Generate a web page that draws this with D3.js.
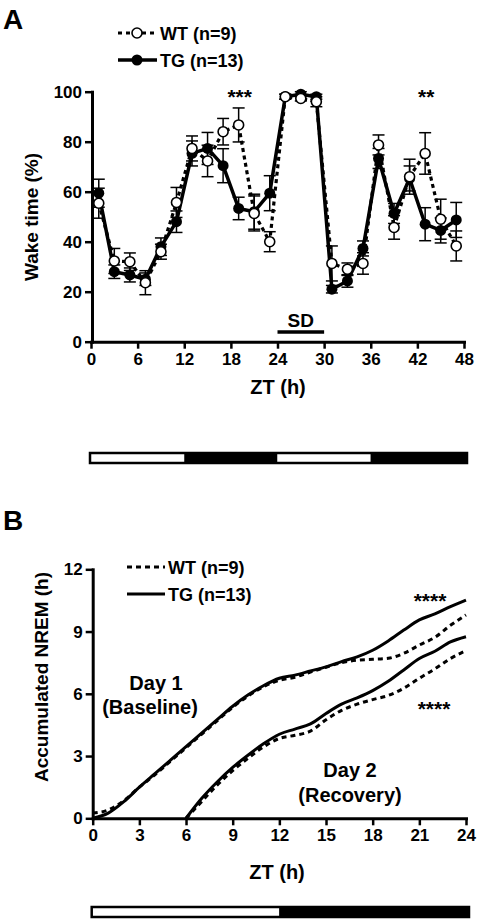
<!DOCTYPE html>
<html><head><meta charset="utf-8">
<script src="https://cdn.jsdelivr.net/npm/d3@7"></script>
<style>
body{margin:0;background:#fff}
svg text{font-family:"Liberation Sans",Arial,Helvetica,sans-serif;font-weight:bold;fill:#000}
</style>
</head><body>
<svg id="c" width="477" height="921"></svg>
<script>
// ---------- Panel A data ----------
const ztA   = [1,3,5,7,9,11,13,15,17,19,21,23,25,27,29,31,33,35,37,39,41,43,45,47];
const wtWake= [55.4,32.3,32,23.6,36,55.7,77.3,72.3,84,86.7,51.3,40,98,97.3,96,31.3,29,31.3,78.7,45.7,66,75.3,49,38.3];
const wtSem = [6,5,3.5,4.8,3,6,5,6.3,5.3,6.8,7,4,1,1,2,7,2.5,4.3,4,4.7,7,8.3,8,6];
const tgWake= [59.4,28,26.7,25,38,48,75.3,77.3,70.4,53.3,52,59.4,98,99,98,21,24.3,37.3,73.3,51.3,65.3,47,44.5,48.7];
const tgSem = [5.6,2.7,2.8,2.5,3.5,4.3,5,6.4,6.8,4.5,7,7,1,1,1,1.5,2.5,3,4,4,5,6.6,5,7];
const ticksAx = [0,6,12,18,24,30,36,42,48];
const ticksAy = [0,20,40,60,80,100];
const lightDarkA = [[0,12,"light"],[12,24,"dark"],[24,36,"light"],[36,48,"dark"]];
const sdPeriod = [24,30];
const starsA = [[19,"***"],[43,"**"]];

// ---------- Panel B data ----------
const hoursDay1 = [0,1,2,3,4,5,6,7,8,9,10,11,12,13,14,15,16,17,18,19,20,21,22,23,24];
const wtDay1 = [0.25,0.4,0.85,1.5,2.1,2.75,3.4,4.05,4.7,5.35,5.9,6.35,6.65,6.8,7.05,7.28,7.5,7.62,7.66,7.71,7.95,8.35,8.72,9.3,9.8];
const tgDay1 = [0,0.25,0.8,1.5,2.15,2.8,3.45,4.1,4.75,5.4,5.95,6.4,6.75,6.9,7.1,7.3,7.55,7.78,8.1,8.55,9.07,9.56,9.85,10.2,10.52];
const hoursDay2 = [6,7,8,9,10,11,12,13,14,15,16,17,18,19,20,21,22,23,24];
const wtDay2 = [0,0.8,1.6,2.3,2.9,3.45,3.85,4.0,4.2,4.75,5.2,5.5,5.72,5.92,6.27,6.75,7.2,7.7,8.08];
const tgDay2 = [0,0.95,1.75,2.45,3.05,3.6,4.05,4.3,4.55,5.05,5.5,5.8,6.15,6.6,7.15,7.7,8.05,8.5,8.75];
const ticksBx = [0,3,6,9,12,15,18,21,24];
const ticksBy = [0,3,6,9,12];
const lightDarkB = [[0,12,"light"],[12,24,"dark"]];

const svg = d3.select("#c");

function styleAxis(g){
  g.select(".domain").attr("stroke","#000").attr("stroke-width",3).attr("stroke-linecap","square");
  g.selectAll(".tick line").attr("stroke","#000").attr("stroke-width",2.5);
  g.selectAll(".tick text").style("font-size","17px").style("font-weight","bold").attr("fill","#000");
}

// ================= PANEL A =================
const xA = d3.scaleLinear().domain([0,48]).range([91,464]);
const yA = d3.scaleLinear().domain([0,100]).range([341.7,91.7]);

svg.append("text").attr("x",3).attr("y",29).style("font-size","28px").text("A");

const gAx = svg.append("g").attr("transform",`translate(0,${yA(0)})`)
  .call(d3.axisBottom(xA).tickValues(ticksAx).tickSize(7).tickSizeOuter(0).tickPadding(4));
styleAxis(gAx);
const gAy = svg.append("g").attr("transform",`translate(${xA(0)+1},0)`)
  .call(d3.axisLeft(yA).tickValues(ticksAy).tickSize(7).tickSizeOuter(0).tickPadding(3));
styleAxis(gAy);

svg.append("text").attr("transform",`translate(38,${217}) rotate(-90)`).attr("text-anchor","middle")
  .style("font-size","19px").text("Wake time (%)");
svg.append("text").attr("x",278).attr("y",394).attr("text-anchor","middle").style("font-size","20px").text("ZT (h)");

svg.append("line").attr("x1",xA(sdPeriod[0])).attr("x2",xA(sdPeriod[1])).attr("y1",332).attr("y2",332)
  .attr("stroke","#000").attr("stroke-width",3.5);
svg.append("text").attr("x",(xA(sdPeriod[0])+xA(sdPeriod[1]))/2).attr("y",327).attr("text-anchor","middle")
  .style("font-size","19px").text("SD");

function lightDark(scale, segs, y, h){
  const g = svg.append("g");
  const x0 = scale(segs[0][0])-1, x1 = scale(segs[segs.length-1][1])+3;
  g.selectAll("rect.seg").data(segs).join("rect")
    .attr("x",d=>scale(d[0])).attr("width",d=>scale(d[1])-scale(d[0]))
    .attr("y",y).attr("height",h).attr("fill",d=>d[2]==="light"?"#fff":"#000");
  g.append("rect").attr("x",x0).attr("y",y).attr("width",x1-x0).attr("height",h)
    .attr("fill","none").attr("stroke","#000").attr("stroke-width",2.5);
  g.append("rect").attr("x",scale(segs[segs.length-1][0])).attr("y",y).attr("width",x1-scale(segs[segs.length-1][0])).attr("height",h).attr("fill","#000");
}
lightDark(xA, lightDarkA, 453, 10);

function errBars(vals, sems){
  const g = svg.append("g").attr("stroke","#000").attr("stroke-width",1.5);
  ztA.forEach((z,i)=>{
    const x = xA(z), yt = yA(Math.min(100,vals[i]+sems[i])), yb = yA(vals[i]-sems[i]);
    g.append("line").attr("x1",x).attr("x2",x).attr("y1",yt).attr("y2",yb);
    g.append("line").attr("x1",x-6).attr("x2",x+6).attr("y1",yt).attr("y2",yt);
    g.append("line").attr("x1",x-6).attr("x2",x+6).attr("y1",yb).attr("y2",yb);
  });
}
errBars(tgWake,tgSem);
errBars(wtWake,wtSem);

const lineA = d3.line().x((d,i)=>xA(ztA[i])).y(d=>yA(d));
svg.append("path").attr("d",lineA(tgWake)).attr("fill","none").attr("stroke","#000").attr("stroke-width",3.5).attr("stroke-linejoin","round");
svg.append("path").attr("d",lineA(wtWake)).attr("fill","none").attr("stroke","#000").attr("stroke-width",3.2).attr("stroke-dasharray","4,3.5");

svg.append("g").selectAll("circle").data(tgWake).join("circle")
  .attr("cx",(d,i)=>xA(ztA[i])).attr("cy",d=>yA(d)).attr("r",5.5).attr("fill","#000");
svg.append("g").selectAll("circle").data(wtWake).join("circle")
  .attr("cx",(d,i)=>xA(ztA[i])).attr("cy",d=>yA(d)).attr("r",5).attr("fill","#fff").attr("stroke","#000").attr("stroke-width",1.6);

starsA.forEach(s=>{
  svg.append("text").attr("x",xA(s[0])+1).attr("y",104).attr("text-anchor","middle").style("font-size","21px").text(s[1]);
});

// legend A
svg.append("line").attr("x1",118).attr("x2",157).attr("y1",33).attr("y2",33).attr("stroke","#000").attr("stroke-width",3.2).attr("stroke-dasharray","4,4");
svg.append("circle").attr("cx",137).attr("cy",33).attr("r",5).attr("fill","#fff").attr("stroke","#000").attr("stroke-width",1.6);
svg.append("text").attr("x",160).attr("y",39.5).style("font-size","18px").text("WT (n=9)");
svg.append("line").attr("x1",118).attr("x2",157).attr("y1",60).attr("y2",60).attr("stroke","#000").attr("stroke-width",3.5);
svg.append("circle").attr("cx",137).attr("cy",60).attr("r",5.5).attr("fill","#000");
svg.append("text").attr("x",160).attr("y",66.5).style("font-size","18px").text("TG (n=13)");

// ================= PANEL B =================
const xB = d3.scaleLinear().domain([0,24]).range([92.7,466]);
const yB = d3.scaleLinear().domain([0,12]).range([818.3,569.3]);

svg.append("text").attr("x",3).attr("y",530).style("font-size","28px").text("B");

const gBx = svg.append("g").attr("transform",`translate(0,${yB(0)})`)
  .call(d3.axisBottom(xB).tickValues(ticksBx).tickSize(7).tickSizeOuter(0).tickPadding(4));
styleAxis(gBx);
const gBy = svg.append("g").attr("transform",`translate(${xB(0)},0)`)
  .call(d3.axisLeft(yB).tickValues(ticksBy).tickSize(7).tickSizeOuter(0).tickPadding(3));
styleAxis(gBy);

svg.append("text").attr("transform",`translate(48,${677}) rotate(-90)`).attr("text-anchor","middle")
  .style("font-size","19px").text("Accumulated NREM (h)");
svg.append("text").attr("x",277).attr("y",879).attr("text-anchor","middle").style("font-size","20px").text("ZT (h)");

lightDark(xB, lightDarkB, 907, 10);

const lineB = (hrs)=>d3.line().x((d,i)=>xB(hrs[i])).y(d=>yB(d)).curve(d3.curveMonotoneX);
[[hoursDay1,tgDay1,false],[hoursDay2,tgDay2,false],[hoursDay1,wtDay1,true],[hoursDay2,wtDay2,true]].forEach(s=>{
  svg.append("path").attr("d",lineB(s[0])(s[1])).attr("fill","none").attr("stroke","#000")
    .attr("stroke-width",3).attr("stroke-dasharray",s[2]?"5,4":null);
});

svg.append("text").attr("x",156).attr("y",690).attr("text-anchor","middle").style("font-size","20px").text("Day 1");
svg.append("text").attr("x",150).attr("y",714).attr("text-anchor","middle").style("font-size","20px").text("(Baseline)");
svg.append("text").attr("x",350).attr("y",777).attr("text-anchor","middle").style("font-size","20px").text("Day 2");
svg.append("text").attr("x",350).attr("y",802).attr("text-anchor","middle").style("font-size","20px").text("(Recovery)");
svg.append("text").attr("x",430).attr("y",608).attr("text-anchor","middle").style("font-size","21px").text("****");
svg.append("text").attr("x",434).attr("y",716).attr("text-anchor","middle").style("font-size","21px").text("****");

// legend B
svg.append("line").attr("x1",127).attr("x2",165).attr("y1",567).attr("y2",567).attr("stroke","#000").attr("stroke-width",3).attr("stroke-dasharray","5,4");
svg.append("text").attr("x",168).attr("y",573.5).style("font-size","18px").text("WT (n=9)");
svg.append("line").attr("x1",127).attr("x2",165).attr("y1",594).attr("y2",594).attr("stroke","#000").attr("stroke-width",3);
svg.append("text").attr("x",168).attr("y",600.5).style("font-size","18px").text("TG (n=13)");
</script>
</body></html>
